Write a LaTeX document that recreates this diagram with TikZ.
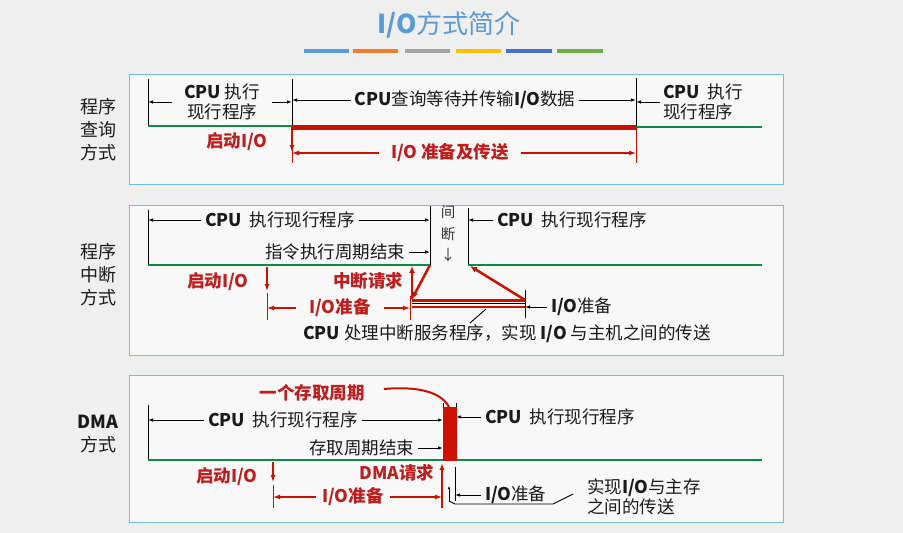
\documentclass[tikz,border=0pt]{standalone}
\usepackage{fontspec}
\setmainfont{Noto Sans CJK SC}
\usetikzlibrary{arrows.meta}
\definecolor{bg}{HTML}{EFEFEF}
\definecolor{panelfill}{HTML}{F8F8F8}
\definecolor{panelblue}{HTML}{6CC3E6}
\definecolor{mygreen}{HTML}{0C8A46}
\definecolor{myred}{HTML}{CC1100}
\definecolor{redtext}{HTML}{BE1E1E}
\definecolor{titleblue}{HTML}{5B9BD5}
\definecolor{barA}{HTML}{5B9BD5}
\definecolor{barB}{HTML}{ED7D31}
\definecolor{barC}{HTML}{A5A5A5}
\definecolor{barD}{HTML}{FFC000}
\definecolor{barE}{HTML}{4472C4}
\definecolor{barF}{HTML}{70AD47}
\definecolor{txtblack}{HTML}{1A1A1A}
\newcommand{\lt}[1]{\textbf{#1}}
\begin{document}
\begin{tikzpicture}[x=1pt,y=-1pt,
  panel/.style={draw=panelblue, fill=panelfill, line width=0.8pt},
  txt/.style={font=\fontsize{17.5}{20}\selectfont, inner sep=0pt, outer xsep=4pt, text=txtblack},
  rtxt/.style={font=\fontsize{17.5}{20}\selectfont\bfseries, inner sep=0pt, outer xsep=4pt, text=redtext},
  lbl/.style={font=\fontsize{18}{23}\selectfont, align=center, inner sep=0pt, text=txtblack},
  gl/.style={draw=mygreen, line width=2.5pt},
  rl/.style={draw=myred, line width=1pt},
  bl/.style={draw=black, line width=0.9pt},
  ba/.style={bl, -{Latex[length=5pt,width=3.5pt]}},
  ra/.style={draw=myred, line width=1.2pt, -{Latex[length=7pt,width=5pt]}},
  rA/.style={draw=myred, line width=2.5pt, -{Latex[length=7pt,width=6pt]}}]
\path[use as bounding box, fill=bg] (0,0) rectangle (903,533);

% title
\node[font=\fontsize{26}{30}\selectfont, text=titleblue, inner sep=0pt] (title) at (449,25) {\textbf{I/O}方式简介};
\fill[barA] (304,49) rectangle (349,53);
\fill[barB] (353,49) rectangle (398,53);
\fill[barC] (405,49) rectangle (450,53);
\fill[barD] (456,49) rectangle (501,53);
\fill[barE] (506,49) rectangle (552,53);
\fill[barF] (557,49) rectangle (603,53);

% panels
\draw[panel] (129,74) rectangle (783,184);
\draw[panel] (129,205) rectangle (783,355);
\draw[panel] (129,375) rectangle (783,522);

% left labels
\node[lbl] (L1) at (98,130) {程序\\查询\\方式};
\node[lbl] (L2) at (98,275) {程序\\中断\\方式};
\node[lbl] (L3) at (98,434) {\lt{DMA}\\方式};

% ---------- panel 1 ----------
\coordinate (a0) at (148,79); \coordinate (a0b) at (148,126);
\coordinate (a1) at (292,79); \coordinate (a1g) at (292,127); \coordinate (a1r) at (292,163); \coordinate (a1d) at (292,152);
\coordinate (a2) at (636,78); \coordinate (a2g) at (636,127); \coordinate (a2r) at (636,163);
\coordinate (a3) at (762,127);
\draw[bl] (a0) -- (a0b);
\draw[bl] (a1) -- (a1g);
\draw[bl] (a2) -- (a2g);
\draw[rl] (a1g) -- (a1r);
\draw[rl] (a2g) -- (a2r);
\draw[gl] (a0b) -- (a1g |- a0b);
\draw[gl] (a2g) -- (a3);
\draw[draw=myred, line width=5pt] (a1g) -- (a2g);
\node[txt, align=center, outer xsep=12pt] (t1a) at (222,102) {\lt{CPU} 执行\\现行程序};
\draw[ba] (t1a) -- (t1a -| a0);
\draw[ba] (t1a) -- (t1a -| a1);
\node[txt] (t1b) at (465,100) {\lt{CPU}查询等待并传输\lt{I/O}数据};
\draw[ba] (t1b) -- (t1b -| a1);
\draw[ba] (t1b) -- (t1b -| a2);
\node[txt, align=left, outer xsep=3pt] (t1c) at (703,102) {\lt{CPU}\ \ 执行\\现行程序};
\draw[ba] (t1c) -- (t1c -| a2);
\node[rtxt] (s1) at (237,142) {启动I/O};
\draw[ra] (a1g) -- (a1d);
\node[rtxt, outer xsep=12pt] (t1d) at (450,153) {I/O 准备及传送};
\draw[ra] (t1d) -- (t1d -| a1);
\draw[ra] (t1d) -- (t1d -| a2);

% ---------- panel 2 ----------
\coordinate (b0) at (148,210); \coordinate (b0g) at (148,265);
\coordinate (b1) at (430,206); \coordinate (b1g) at (430,265);
\coordinate (b2) at (468,208); \coordinate (b2g) at (468,265);
\coordinate (b3) at (762,265);
\draw[bl] (b0) -- (b0g);
\draw[bl] (b1) -- (b1g);
\draw[bl] (b2) -- (b2g);
\draw[gl] (b0g) -- (b1g);
\draw[gl] (b2g) -- (b3);
\node[txt] (t2a) at (280,220) {\lt{CPU}\ \ 执行现行程序};
\draw[ba] (t2a) -- (t2a -| b0);
\draw[ba] (t2a) -- (t2a -| b1);
\node[txt, anchor=east] (t2b) at (409,252) {指令执行周期结束};
\draw[ba] (t2b) -- (t2b -| b1);
\node[font=\fontsize{14.5}{21.5}\selectfont, align=center, inner sep=0pt, text=black!80] (t2c) at (448,234) {间\\断\\↓};
\node[txt, anchor=west] (t2d) at (493,220) {\lt{CPU}\ \ 执行现行程序};
\draw[ba] (t2d) -- (t2d -| b2);
% red
\node[rtxt] (s2) at (218,282) {启动I/O};
\coordinate (b4) at (267,267); \coordinate (b4d) at (267,291);
\draw[ra] (b4) -- (b4d);
\coordinate (b4t) at (267,293); \coordinate (b4b) at (267,320);
\draw[rl] (b4t) -- (b4b);
\coordinate (b5t) at (410,296); \coordinate (b5b) at (410,320);
\draw[rl] (b5t) -- (b5b);
\node[rtxt, outer xsep=13pt] (t2e) at (340,308) {I/O准备};
\draw[ra] (t2e) -- (t2e -| b4t);
\draw[ra] (t2e) -- (t2e -| b5t);
\node[rtxt] (t2f) at (368,281) {中断请求};
\coordinate (b6) at (412,299); \coordinate (b6u) at (412,266);
\coordinate (b6h) at (412,300);
\coordinate (b7) at (525,300);
\coordinate (b7m) at (525,303.5); \coordinate (b6m) at (412,303.5);
\coordinate (b7l) at (525,307); \coordinate (b6l) at (412,307);
\draw[draw=myred, line width=3pt] (b6h) -- (b7);
\draw[draw=black, line width=0.8pt] (b6m) -- (b7m);
\draw[draw=myred, line width=2pt] (b6l) -- (b7l);
\draw[rA] (b6) -- (b6u);
\draw[rA] (b1g) -- (b6);
\coordinate (b2a) at (470,266);
\draw[rA] (b7) -- (b2a);
\coordinate (b8t) at (525,290); \coordinate (b8b) at (525,318);
\draw[bl] (b8t) -- (b8b);
\node[txt, anchor=west] (t2g) at (547,307) {\lt{I/O}准备};
\draw[ba] (t2g) -- (t2g -| b8t);
\node[txt] (t2h) at (507,334) {\lt{CPU} 处理中断服务程序，实现 \lt{I/O} 与主机之间的传送};
\coordinate (b9a) at (470,323); \coordinate (b9b) at (486,309);
\draw[bl] (b9a) -- (b9b);

% ---------- panel 3 ----------
\coordinate (c0) at (148,405); \coordinate (c0g) at (148,460);
\coordinate (c1) at (443,403); \coordinate (c1g) at (443,460);
\coordinate (c2) at (456,403); \coordinate (c2g) at (456,460);
\coordinate (c3) at (762,460);
\draw[bl] (c0) -- (c0g);
\draw[bl] (c1) -- (c1g);
\draw[bl] (c2) -- (c2g);
\draw[gl] (c0g) -- (c1g);
\draw[gl] (c2g) -- (c3);
\fill[myred] (443,407) rectangle (457,461);
\node[txt] (t3a) at (283,420) {\lt{CPU}\ \ 执行现行程序};
\draw[ba] (t3a) -- (t3a -| c0);
\draw[ba] (t3a) -- (t3a -| c1);
\node[txt, anchor=east] (t3b) at (418,448) {存取周期结束};
\draw[ba] (t3b) -- (t3b -| c1);
\node[txt, anchor=west] (t3c) at (481,417) {\lt{CPU}\ \ 执行现行程序};
\draw[ba] (t3c) -- (t3c -| c2);
\node[rtxt] (t3d) at (312,393) {一个存取周期};
\coordinate (c5) at (384,389); \coordinate (c4) at (449,407);
\draw[draw=myred, line width=2pt] (c5) .. controls (418,386) and (441,392) .. (c4);
\node[rtxt] (s3) at (227,477) {启动I/O};
\coordinate (c6) at (273,462); \coordinate (c6d) at (273,482);
\draw[ra] (c6) -- (c6d);
\coordinate (c6t) at (273,485); \coordinate (c6b) at (273,508);
\draw[rl] (c6t) -- (c6b);
\coordinate (c7) at (442,508); \coordinate (c7u) at (442,463);
\draw[draw=myred, line width=2pt, -{Latex[length=7pt,width=5pt]}] (c7) -- (c7u);
\node[rtxt, outer xsep=6pt] (t3e) at (353,497) {I/O准备};
\draw[ra] (t3e) -- (t3e -| c6t);
\draw[ra] (t3e) -- (t3e -| c7);
\node[rtxt] (t3f) at (397,473) {DMA请求};
\coordinate (c8t) at (455,467); \coordinate (c8b) at (455,501);
\draw[bl] (c8t) -- (c8b);
\coordinate (c9a) at (449,501); \coordinate (c9b) at (449,486);
\draw[bl, -{Latex[length=3pt,width=2.5pt]}] (c9a) -- (c9b);
\coordinate (c9c) at (455,504); \coordinate (c9d) at (553,504); \coordinate (c9e) at (573,494);
\draw[bl] (c9a) -- (c9c) -- (c9d) -- (c9e);
\node[txt, anchor=west] (t3g) at (481,495) {\lt{I/O}准备};
\draw[ba] (t3g) -- (t3g -| c8t);
\node[txt, align=left, anchor=west] (t3h) at (583,497) {实现\lt{I/O}与主存\\之间的传送};
\end{tikzpicture}
\end{document}
